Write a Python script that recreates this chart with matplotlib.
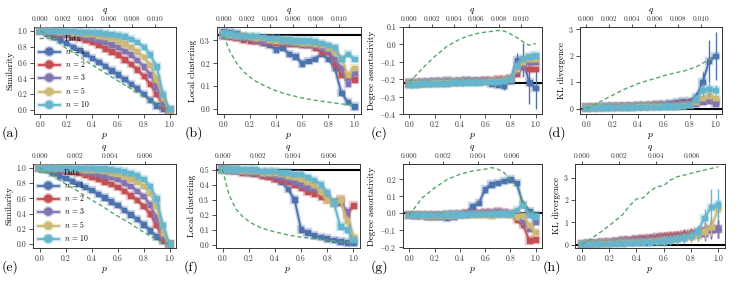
import matplotlib
matplotlib.use("Agg")
import matplotlib.pyplot as plt
import matplotlib.patheffects as pe
from matplotlib.lines import Line2D

plt.rcParams['font.family'] = ['cmr10', 'DejaVu Serif']
plt.rcParams['mathtext.fontset'] = 'cm'
plt.rcParams['axes.formatter.use_mathtext'] = True

p = [0.0, 0.05, 0.1, 0.15, 0.2, 0.25, 0.3, 0.35, 0.4, 0.45, 0.5,
     0.55, 0.6, 0.65, 0.7, 0.75, 0.8, 0.85, 0.9, 0.95, 1.0]
labels = ['$n$ = 1', '$n$ = 2', '$n$ = 3', '$n$ = 5', '$n$ = 10']
colors = ['#4C72B0', '#C44E52', '#8172B2', '#CCB974', '#64B5CD']
data_color = '#55A868'

# (a) similarity, top row
data_a = [1.0, 0.95, 0.89, 0.84, 0.78, 0.73, 0.68, 0.62, 0.57, 0.52, 0.47, 0.42, 0.37, 0.32, 0.27, 0.22, 0.17, 0.12, 0.08, 0.04, 0.01]
a_n1 = [1.0, 0.97, 0.93, 0.89, 0.85, 0.80, 0.76, 0.71, 0.66, 0.61, 0.56, 0.50, 0.45, 0.39, 0.33, 0.27, 0.20, 0.13, 0.06, 0.02, 0.0]
a_n2 = [1.0, 0.99, 0.98, 0.97, 0.95, 0.93, 0.91, 0.89, 0.86, 0.82, 0.78, 0.74, 0.70, 0.64, 0.58, 0.51, 0.43, 0.33, 0.20, 0.06, 0.0]
a_n3 = [1.0, 1.0, 0.99, 0.98, 0.97, 0.96, 0.95, 0.93, 0.92, 0.89, 0.86, 0.83, 0.80, 0.75, 0.70, 0.63, 0.55, 0.45, 0.30, 0.08, 0.0]
a_n5 = [1.0, 1.0, 1.0, 0.99, 0.99, 0.98, 0.98, 0.97, 0.96, 0.94, 0.93, 0.91, 0.88, 0.84, 0.80, 0.74, 0.67, 0.57, 0.40, 0.15, 0.0]
a_n10 = [1.0, 1.0, 1.0, 1.0, 1.0, 1.0, 0.99, 0.99, 0.99, 0.98, 0.97, 0.96, 0.95, 0.93, 0.90, 0.86, 0.80, 0.70, 0.55, 0.20, 0.01]

# (b) local clustering, top row
data_b = [0.32, 0.25, 0.20, 0.165, 0.14, 0.12, 0.105, 0.092, 0.08, 0.07, 0.062, 0.055, 0.048, 0.043, 0.038, 0.034, 0.03, 0.026, 0.022, 0.02, 0.018]
b_n1 = [0.34, 0.335, 0.33, 0.32, 0.31, 0.30, 0.29, 0.28, 0.26, 0.27, 0.24, 0.23, 0.20, 0.21, 0.22, 0.24, 0.22, 0.18, 0.07, 0.03, 0.01]
b_n2 = [0.32, 0.315, 0.31, 0.305, 0.30, 0.30, 0.295, 0.295, 0.29, 0.29, 0.285, 0.285, 0.28, 0.28, 0.27, 0.25, 0.25, 0.20, 0.15, 0.14, 0.13]
b_n3 = [0.32, 0.32, 0.315, 0.31, 0.31, 0.305, 0.30, 0.30, 0.30, 0.295, 0.29, 0.29, 0.285, 0.28, 0.28, 0.27, 0.26, 0.22, 0.18, 0.11, 0.16]
b_n5 = [0.33, 0.325, 0.32, 0.32, 0.315, 0.31, 0.31, 0.305, 0.30, 0.30, 0.30, 0.295, 0.29, 0.29, 0.285, 0.28, 0.27, 0.25, 0.22, 0.15, 0.18]
b_n10 = [0.33, 0.33, 0.325, 0.32, 0.32, 0.32, 0.315, 0.31, 0.31, 0.305, 0.305, 0.30, 0.30, 0.30, 0.295, 0.29, 0.28, 0.27, 0.22, 0.24, 0.22]

# (c) degree assortativity, top row
data_c = [-0.22, -0.18, -0.14, -0.105, -0.07, -0.04, -0.01, 0.01, 0.03, 0.045, 0.055, 0.065, 0.07, 0.075, 0.08, 0.077, 0.06, 0.04, 0.015, -0.005, 0.005]
c_n1 = [-0.22, -0.22, -0.215, -0.215, -0.21, -0.21, -0.205, -0.21, -0.21, -0.205, -0.21, -0.21, -0.21, -0.225, -0.23, -0.24, -0.21, -0.09, -0.09, -0.22, -0.25]
c_n2 = [-0.225, -0.225, -0.22, -0.22, -0.22, -0.215, -0.215, -0.215, -0.21, -0.21, -0.21, -0.21, -0.205, -0.205, -0.2, -0.2, -0.195, -0.17, -0.13, -0.14, -0.14]
c_n3 = [-0.225, -0.225, -0.225, -0.22, -0.22, -0.22, -0.22, -0.215, -0.215, -0.215, -0.21, -0.21, -0.21, -0.21, -0.205, -0.205, -0.2, -0.15, -0.12, -0.10, -0.10]
c_n5 = [-0.225, -0.225, -0.225, -0.225, -0.22, -0.22, -0.22, -0.22, -0.22, -0.215, -0.215, -0.215, -0.215, -0.21, -0.21, -0.205, -0.2, -0.14, -0.10, -0.08, -0.08]
c_n10 = [-0.23, -0.23, -0.225, -0.225, -0.225, -0.225, -0.225, -0.22, -0.22, -0.22, -0.22, -0.22, -0.215, -0.215, -0.215, -0.21, -0.2, -0.12, -0.08, -0.07, -0.065]
err_c_n1 = [0.005, 0.005, 0.005, 0.005, 0.005, 0.005, 0.005, 0.005, 0.005, 0.005, 0.005, 0.01, 0.01, 0.01, 0.01, 0.02, 0.02, 0.04, 0.1, 0.12, 0.12]

# (d) KL divergence, top row
data_d = [0.0, 0.12, 0.25, 0.38, 0.5, 0.63, 0.75, 0.85, 0.95, 1.03, 1.1, 1.17, 1.25, 1.31, 1.37, 1.42, 1.5, 1.58, 1.72, 1.85, 1.9]
d_n1 = [0.05, 0.06, 0.07, 0.08, 0.09, 0.1, 0.1, 0.11, 0.12, 0.13, 0.15, 0.17, 0.18, 0.22, 0.25, 0.27, 0.3, 0.45, 1.0, 1.8, 2.0]
d_n2 = [0.05, 0.06, 0.06, 0.07, 0.08, 0.08, 0.09, 0.1, 0.1, 0.11, 0.12, 0.13, 0.14, 0.15, 0.16, 0.17, 0.2, 0.25, 0.3, 0.35, 0.3]
d_n3 = [0.04, 0.05, 0.05, 0.06, 0.06, 0.07, 0.07, 0.08, 0.08, 0.09, 0.1, 0.1, 0.11, 0.12, 0.12, 0.13, 0.15, 0.2, 0.25, 0.3, 0.2]
d_n5 = [0.04, 0.04, 0.05, 0.05, 0.06, 0.06, 0.07, 0.07, 0.08, 0.08, 0.09, 0.09, 0.1, 0.1, 0.11, 0.12, 0.15, 0.25, 0.4, 0.5, 0.4]
d_n10 = [0.03, 0.03, 0.04, 0.04, 0.04, 0.05, 0.05, 0.05, 0.06, 0.06, 0.07, 0.07, 0.08, 0.08, 0.09, 0.1, 0.15, 0.35, 0.7, 0.75, 0.7]
err_d_n1 = [0.03, 0.03, 0.03, 0.03, 0.03, 0.04, 0.04, 0.04, 0.05, 0.05, 0.05, 0.06, 0.06, 0.07, 0.08, 0.08, 0.1, 0.2, 0.4, 0.8, 0.9]
err_d_n10 = [0.02, 0.02, 0.02, 0.02, 0.02, 0.02, 0.03, 0.03, 0.03, 0.03, 0.03, 0.04, 0.04, 0.04, 0.05, 0.05, 0.06, 0.15, 0.25, 0.3, 0.2]

# (e) similarity, bottom row
data_e = [1.0, 0.95, 0.90, 0.84, 0.79, 0.74, 0.69, 0.63, 0.58, 0.53, 0.48, 0.42, 0.37, 0.32, 0.27, 0.21, 0.16, 0.11, 0.06, 0.02, 0.0]
e_n1 = [1.0, 0.97, 0.93, 0.90, 0.87, 0.83, 0.79, 0.75, 0.71, 0.66, 0.61, 0.56, 0.51, 0.45, 0.39, 0.33, 0.26, 0.18, 0.10, 0.04, 0.0]
e_n2 = [1.0, 0.99, 0.99, 0.98, 0.96, 0.95, 0.93, 0.91, 0.88, 0.85, 0.82, 0.79, 0.75, 0.70, 0.64, 0.58, 0.50, 0.40, 0.25, 0.06, 0.0]
e_n3 = [1.0, 1.0, 1.0, 0.99, 0.98, 0.98, 0.97, 0.95, 0.94, 0.92, 0.90, 0.88, 0.85, 0.81, 0.76, 0.70, 0.63, 0.52, 0.35, 0.10, 0.0]
e_n5 = [1.0, 1.0, 1.0, 1.0, 1.0, 0.99, 0.99, 0.98, 0.98, 0.97, 0.96, 0.94, 0.92, 0.89, 0.86, 0.82, 0.76, 0.67, 0.50, 0.15, 0.0]
e_n10 = [1.0, 1.0, 1.0, 1.0, 1.0, 1.0, 1.0, 1.0, 1.0, 0.99, 0.99, 0.98, 0.97, 0.95, 0.93, 0.90, 0.85, 0.76, 0.60, 0.25, 0.0]

# (f) local clustering, bottom row
data_f = [0.5, 0.33, 0.24, 0.19, 0.155, 0.13, 0.11, 0.097, 0.085, 0.075, 0.065, 0.057, 0.05, 0.045, 0.04, 0.035, 0.03, 0.025, 0.02, 0.017, 0.015]
f_n1 = [0.51, 0.5, 0.5, 0.49, 0.49, 0.48, 0.47, 0.46, 0.44, 0.42, 0.37, 0.30, 0.10, 0.08, 0.06, 0.05, 0.04, 0.03, 0.02, 0.015, 0.01]
f_n2 = [0.5, 0.49, 0.49, 0.48, 0.48, 0.47, 0.46, 0.45, 0.44, 0.43, 0.42, 0.40, 0.38, 0.35, 0.34, 0.32, 0.30, 0.28, 0.30, 0.20, 0.26]
f_n3 = [0.5, 0.5, 0.49, 0.49, 0.48, 0.48, 0.47, 0.47, 0.46, 0.45, 0.44, 0.42, 0.40, 0.38, 0.37, 0.35, 0.33, 0.28, 0.28, 0.22, 0.03]
f_n5 = [0.5, 0.5, 0.5, 0.49, 0.49, 0.49, 0.48, 0.48, 0.48, 0.47, 0.46, 0.45, 0.44, 0.42, 0.40, 0.35, 0.30, 0.27, 0.30, 0.16, 0.05]
f_n10 = [0.5, 0.5, 0.5, 0.5, 0.5, 0.5, 0.49, 0.49, 0.49, 0.48, 0.48, 0.47, 0.47, 0.45, 0.43, 0.40, 0.35, 0.28, 0.12, 0.10, 0.03]

# (g) degree assortativity, bottom row
data_g = [-0.01, 0.04, 0.09, 0.12, 0.15, 0.175, 0.2, 0.215, 0.23, 0.24, 0.25, 0.255, 0.26, 0.27, 0.26, 0.24, 0.2, 0.16, 0.07, 0.02, 0.0]
g_n1 = [-0.01, -0.012, -0.015, -0.018, -0.02, -0.022, -0.025, -0.02, -0.01, 0.0, 0.04, 0.06, 0.14, 0.17, 0.18, 0.19, 0.2, 0.18, 0.05, 0.01, -0.01]
g_n2 = [-0.01, -0.01, -0.01, -0.012, -0.012, -0.01, -0.01, -0.008, -0.005, 0.0, 0.0, 0.003, 0.005, 0.008, 0.01, 0.005, 0.0, -0.04, -0.07, -0.16, -0.155]
g_n3 = [-0.01, -0.01, -0.01, -0.01, -0.01, -0.01, -0.008, -0.008, -0.005, -0.005, 0.0, 0.0, 0.0, 0.003, 0.005, 0.0, -0.005, -0.02, -0.05, -0.09, -0.05]
g_n5 = [-0.01, -0.01, -0.012, -0.012, -0.012, -0.012, -0.012, -0.012, -0.01, -0.01, -0.01, -0.01, -0.01, -0.012, -0.01, -0.005, -0.01, -0.02, -0.01, -0.07, -0.11]
g_n10 = [-0.01, -0.01, -0.01, -0.01, -0.01, -0.01, -0.008, -0.008, -0.006, -0.006, -0.005, -0.004, -0.003, -0.002, 0.0, 0.0, 0.0, 0.02, 0.05, -0.01, -0.02]

# (h) KL divergence, bottom row
data_h = [0.0, 0.2, 0.4, 0.62, 0.85, 1.1, 1.35, 1.75, 2.05, 2.1, 2.4, 2.6, 2.65, 2.9, 3.05, 3.12, 3.2, 3.28, 3.35, 3.42, 3.5]
h_n1 = [0.03, 0.05, 0.08, 0.1, 0.13, 0.15, 0.18, 0.2, 0.23, 0.26, 0.3, 0.32, 0.35, 0.37, 0.4, 0.42, 0.45, 0.5, 0.6, 0.65, 0.7]
h_n2 = [0.03, 0.05, 0.08, 0.1, 0.13, 0.16, 0.19, 0.22, 0.25, 0.28, 0.3, 0.33, 0.36, 0.4, 0.43, 0.47, 0.5, 0.55, 0.65, 0.7, 0.7]
h_n3 = [0.02, 0.04, 0.06, 0.08, 0.1, 0.12, 0.14, 0.16, 0.18, 0.2, 0.22, 0.24, 0.27, 0.3, 0.33, 0.36, 0.4, 0.45, 0.5, 0.7, 0.7]
h_n5 = [0.02, 0.03, 0.04, 0.05, 0.06, 0.08, 0.09, 0.1, 0.12, 0.13, 0.15, 0.17, 0.19, 0.22, 0.25, 0.3, 0.35, 0.45, 0.6, 0.8, 1.6]
h_n10 = [0.01, 0.02, 0.02, 0.03, 0.04, 0.05, 0.06, 0.07, 0.08, 0.09, 0.1, 0.12, 0.15, 0.2, 0.25, 0.3, 0.4, 0.6, 1.2, 1.7, 1.8]
err_h_all = [0.02, 0.04, 0.06, 0.08, 0.1, 0.12, 0.13, 0.14, 0.15, 0.16, 0.17, 0.18, 0.19, 0.2, 0.2, 0.22, 0.25, 0.3, 0.35, 0.4, 0.4]
err_h_n10 = [0.02, 0.04, 0.06, 0.08, 0.1, 0.12, 0.13, 0.14, 0.15, 0.16, 0.17, 0.18, 0.19, 0.2, 0.2, 0.22, 0.25, 0.3, 0.4, 0.8, 0.7]

W, H = 737, 282

def rect(l, r, t, b):
    return [l / W, 1 - b / H, (r - l) / W, (b - t) / H]

def fmt_tick(v, f):
    s = f % v
    return '$%s$' % s if v < 0 else s

panels = [
    dict(tag='(a)', box=(34, 176, 27, 114), data=data_a, s=[a_n1, a_n2, a_n3, a_n5, a_n10], err={},
         ylabel='Similarity', ylim=(-0.05, 1.05), yt=[0, 0.2, 0.4, 0.6, 0.8, 1.0], fmt='%.1f', ref=None, top=0),
    dict(tag='(b)', box=(217, 361, 27, 114), data=data_b, s=[b_n1, b_n2, b_n3, b_n5, b_n10], err={},
         ylabel='Local clustering', ylim=(-0.022, 0.359), yt=[0, 0.1, 0.2, 0.3], fmt='%.1f', ref=0.322, top=0),
    dict(tag='(c)', box=(403, 542, 27, 114), data=data_c, s=[c_n1, c_n2, c_n3, c_n5, c_n10], err={0: err_c_n1},
         ylabel='Degree assortativity', ylim=(-0.4, 0.1), yt=[-0.4, -0.3, -0.2, -0.1, 0.0, 0.1], fmt='%.1f', ref=-0.222, top=0),
    dict(tag='(d)', box=(580, 722, 27, 114), data=data_d, s=[d_n1, d_n2, d_n3, d_n5, d_n10], err={0: err_d_n1, 4: err_d_n10},
         ylabel='KL divergence', ylim=(-0.2, 3.09), yt=[0, 1, 2, 3], fmt='%d', ref=0.0, top=0),
    dict(tag='(e)', box=(33, 176, 164, 248), data=data_e, s=[e_n1, e_n2, e_n3, e_n5, e_n10], err={},
         ylabel='Similarity', ylim=(-0.05, 1.05), yt=[0, 0.2, 0.4, 0.6, 0.8, 1.0], fmt='%.1f', ref=None, top=1),
    dict(tag='(f)', box=(216, 360, 164, 248), data=data_f, s=[f_n1, f_n2, f_n3, f_n5, f_n10], err={},
         ylabel='Local clustering', ylim=(-0.022, 0.537), yt=[0, 0.1, 0.2, 0.3, 0.4, 0.5], fmt='%.1f', ref=0.5, top=1),
    dict(tag='(g)', box=(403, 542, 164, 248), data=data_g, s=[g_n1, g_n2, g_n3, g_n5, g_n10], err={},
         ylabel='Degree assortativity', ylim=(-0.205, 0.291), yt=[-0.2, -0.1, 0.0, 0.1, 0.2], fmt='%.1f', ref=0.0, top=1),
    dict(tag='(h)', box=(575, 725, 164, 248), data=data_h, s=[h_n1, h_n2, h_n3, h_n5, h_n10],
         err={0: err_h_all, 1: err_h_all, 2: err_h_all, 3: err_h_all, 4: err_h_n10},
         ylabel='KL divergence', ylim=(-0.15, 3.62), yt=[0, 1, 2, 3], fmt='%d', ref=0.0, top=1),
]

q_scale = [0.0113, 0.0074]
q_ticks = [[0.0, 0.002, 0.004, 0.006, 0.008, 0.010], [0.0, 0.002, 0.004, 0.006]]

fig = plt.figure(figsize=(W / 100, H / 100), dpi=100)

for P in panels:
    l, r, t, b = P['box']
    ax = fig.add_axes(rect(l, r, t, b))
    if P['ref'] is not None:
        ax.axhline(P['ref'], color='black', lw=1.5, zorder=1)
    for i, (ys, c) in enumerate(zip(P['s'], colors)):
        halo = [pe.Stroke(linewidth=3.2, foreground=c, alpha=0.3), pe.Normal()]
        if i in P['err']:
            cont = ax.errorbar(p, ys, yerr=P['err'][i], color=c, lw=1.3, marker='s', ms=3.2,
                               elinewidth=1.0, capsize=0, zorder=3 + i)
            cont.lines[0].set_path_effects(halo)
        else:
            ax.plot(p, ys, color=c, lw=1.3, marker='s', ms=3.2, zorder=3 + i, path_effects=halo)
    ax.plot(p, P['data'], color=data_color, lw=1.0, ls='--', dashes=(3, 2), zorder=10)

    ax.set_xlim(-0.05, 1.05)
    ax.set_ylim(*P['ylim'])
    ax.set_xticks([0, 0.2, 0.4, 0.6, 0.8, 1.0])
    ax.set_xticklabels(['%.1f' % v for v in [0, 0.2, 0.4, 0.6, 0.8, 1.0]])
    ax.set_yticks(P['yt'])
    ax.set_yticklabels([fmt_tick(v, P['fmt']) for v in P['yt']])
    ax.tick_params(labelsize=5.5, length=3, width=0.6, direction='out', pad=2, colors='#333333')
    for sp in ax.spines.values():
        sp.set_linewidth(0.7)
        sp.set_color('#333333')
    ax.set_xlabel('$p$', fontsize=7, labelpad=1)
    ax.set_ylabel(P['ylabel'], fontsize=6.5, labelpad=2)

    k = q_scale[P['top']]
    ax2 = ax.twiny()
    ax2.set_xlim(-0.05 * k, 1.05 * k)
    ax2.set_xticks(q_ticks[P['top']])
    ax2.set_xticklabels(['%.3f' % v for v in q_ticks[P['top']]])
    ax2.tick_params(labelsize=5.3, length=2.5, width=0.6, direction='out', pad=1, colors='#333333')
    ax2.set_xlabel('$q$', fontsize=6.5, labelpad=3)
    for sp in ax2.spines.values():
        sp.set_visible(False)

    if P['tag'] in ('(a)', '(e)'):
        handles = [Line2D([], [], color=data_color, lw=1.0, ls='--', dashes=(3, 2))]
        handles += [Line2D([], [], color=c, lw=1.3, marker='o', ms=5,
                           path_effects=[pe.Stroke(linewidth=3.2, foreground=c, alpha=0.3), pe.Normal()])
                    for c in colors]
        leg = ax.legend(handles, ['Data'] + labels, loc='lower left', fontsize=5.5, frameon=False,
                        handlelength=2.8, labelspacing=0.4, borderaxespad=0.2, handletextpad=0.6)
        leg.set_zorder(20)

    fig.text((l - 32) / W if l > 40 else 2 / W, 1 - (b + 19) / H, P['tag'], fontsize=10, va='center', ha='left')

fig.savefig('out.png', dpi=100)
